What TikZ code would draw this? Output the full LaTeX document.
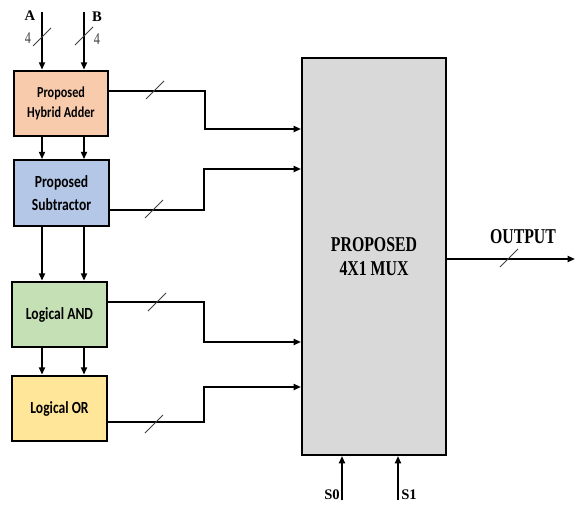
\documentclass[tikz,border=0pt]{standalone}
\usepackage{fontspec}
\setmainfont{Liberation Serif}
\newfontfamily\boxfont[FakeStretch=0.8]{Carlito}
\newfontfamily\narrowfont[FakeStretch=0.75]{Liberation Serif}
\usetikzlibrary{arrows.meta}

\definecolor{addfill}{HTML}{F8CBAD}
\definecolor{subfill}{HTML}{B4C7E7}
\definecolor{andfill}{HTML}{C5E0B4}
\definecolor{orfill}{HTML}{FFE699}
\definecolor{muxfill}{HTML}{D9D9D9}

\tikzset{busmark/.pic={\draw[line width=0.7pt, black!75] (-9,9) -- (9,-9);}}

\begin{document}
\begin{tikzpicture}[x=0.03cm, y=-0.03cm,
  unit/.style={draw, line width=1.7pt, inner sep=0pt, align=center,
    minimum width=2.85cm, minimum height=1.97cm,
    font=\boxfont\bfseries\fontsize{14.5}{19.5}\selectfont},
  muxbox/.style={draw, line width=1.7pt, fill=muxfill, inner sep=0pt, align=center,
    minimum width=4.32cm, minimum height=11.91cm,
    font=\narrowfont\bfseries\fontsize{18}{21}\selectfont},
  sig/.style={line width=1.5pt, -{Triangle[length=2.2mm, width=1.8mm]}},
  lbl/.style={font=\bfseries\fontsize{12.5}{13}\selectfont, inner sep=0pt},
  width4/.style={font=\narrowfont\fontsize{14}{15}\selectfont, text=black!75, inner sep=0pt}
]
  \useasboundingbox (0,0) rectangle (581,507);

  % blocks
  \node[unit, fill=addfill, minimum width=2.82cm,
    font=\boxfont\bfseries\fontsize{13}{17.6}\selectfont] (adder) at (61,103.5) {Proposed\\Hybrid Adder};
  \node[unit, fill=subfill] (sub)  at (61.5,193)  {Proposed\\Subtractor};
  \node[unit, fill=andfill] (andg) at (59.5,314.5) {Logical AND};
  \node[unit, fill=orfill]  (org)  at (59.5,408.5) {Logical OR};
  \node[muxbox] (mux) at (374,256.5) {PROPOSED\\4X1 MUX};

  % inputs
  \coordinate (inA) at (42,12);
  \coordinate (inB) at (84,12);
  \node[lbl] (labA) at (30,16) {A};
  \node[lbl] (labB) at (97,17) {B};
  \node[width4] (wA) at (28,38) {4};
  \node[width4] (wB) at (97,39) {4};
  \draw[sig] (inA) -- (inA |- adder.north);
  \draw[sig] (inB) -- (inB |- adder.north);
  \pic at (42,37) {busmark};
  \pic at (84,36) {busmark};

  % operand chain
  \draw[sig] (inA |- adder.south) -- (inA |- sub.north);
  \draw[sig] (inB |- adder.south) -- (inB |- sub.north);
  \draw[sig] (inA |- sub.south) -- (inA |- andg.north);
  \draw[sig] (inB |- sub.south) -- (inB |- andg.north);
  \draw[sig] (inA |- andg.south) -- (inA |- org.north);
  \draw[sig] (inB |- andg.south) -- (inB |- org.north);

  % results to mux
  \draw[sig] (adder.east |- 0,91) -- (205,91) |- (mux.west |- 0,129);
  \draw[sig] (sub.east |- 0,210) -- (204,210) |- (mux.west |- 0,169);
  \draw[sig] (andg.east |- 0,302) -- (204,302) |- (mux.west |- 0,342);
  \draw[sig] (org.east |- 0,422) -- (204,422) |- (mux.west |- 0,387);
  \pic at (155,90) {busmark};
  \pic at (154,209) {busmark};
  \pic at (157,302) {busmark};
  \pic at (154,424) {busmark};

  % output
  \coordinate (out) at (575,259);
  \draw[sig] (mux.east |- out) -- (out);
  \pic at (509,258) {busmark};
  \node[font=\narrowfont\bfseries\fontsize{18}{21}\selectfont, inner sep=0pt] (labOut) at (523,237) {OUTPUT};

  % select lines
  \coordinate (s0) at (342,500);
  \coordinate (s1) at (398,500);
  \draw[sig] (s0) -- (s0 |- mux.south);
  \draw[sig] (s1) -- (s1 |- mux.south);
  \node[lbl] (labS0) at (332,495) {S0};
  \node[lbl] (labS1) at (409,495) {S1};
\end{tikzpicture}
\end{document}
